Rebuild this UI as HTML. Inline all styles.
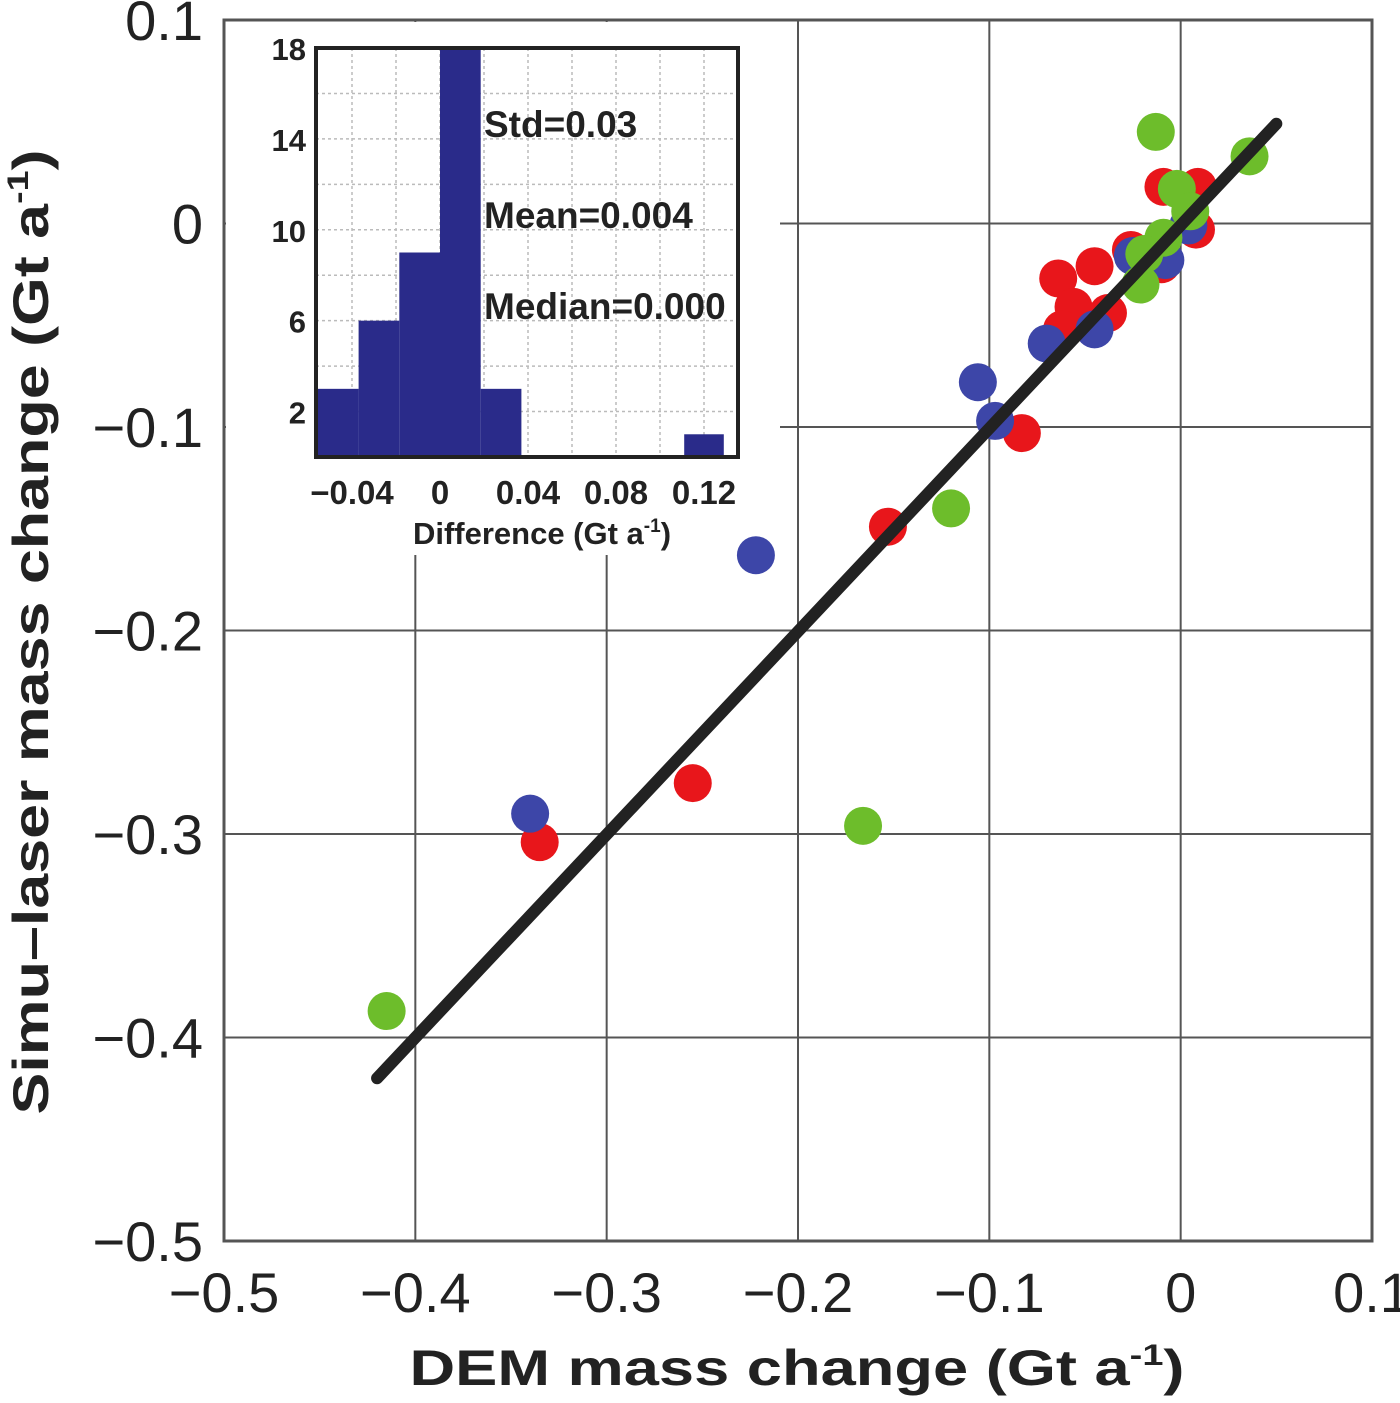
<!DOCTYPE html>
<html><head><meta charset="utf-8"><style>
html,body{margin:0;padding:0;background:#fff;}
svg{display:block;font-family:"Liberation Sans",sans-serif;}
</style></head><body>
<svg id="chart" width="1400" height="1403" viewBox="0 0 1400 1403">
<g id="main-grid"></g>
<rect x="224" y="20" width="1148" height="1221" fill="none" stroke="#555" stroke-width="3"/>
<rect x="226" y="22" width="554" height="533" fill="#fff"/>
<g id="points"></g>
<g id="fitline"></g>
<g id="ticks"></g>
<text x="797" y="1385" font-size="50" font-weight="bold" text-anchor="middle" fill="#222" textLength="775" lengthAdjust="spacingAndGlyphs">DEM mass change (Gt a<tspan font-size="30" dy="-20">-1</tspan><tspan dy="20">)</tspan></text>
<text transform="translate(48,632) rotate(-90)" font-size="50" font-weight="bold" text-anchor="middle" fill="#222" textLength="965" lengthAdjust="spacingAndGlyphs">Simu–laser mass change (Gt a<tspan font-size="30" dy="-20">-1</tspan><tspan dy="20">)</tspan></text>
<g id="inset"></g>
</svg>
<script>
// Main scatter data
const xTicks = [-0.5,-0.4,-0.3,-0.2,-0.1,0,0.1];
const xTickLabels = ["−0.5","−0.4","−0.3","−0.2","−0.1","0","0.1"];
const yTicks = [0.1,0,-0.1,-0.2,-0.3,-0.4,-0.5];
const yTickLabels = ["0.1","0","−0.1","−0.2","−0.3","−0.4","−0.5"];
const redX = [-0.009,0.009,0.008,-0.064,-0.045,-0.056,-0.038,-0.062,-0.083,-0.153,-0.255,-0.335,-0.026,-0.01];
const redY = [0.018,0.018,-0.003,-0.027,-0.021,-0.041,-0.044,-0.052,-0.103,-0.149,-0.275,-0.304,-0.013,-0.02];
const blueX = [-0.222,-0.106,-0.097,-0.07,-0.045,-0.025,-0.008,-0.34,0.004];
const blueY = [-0.163,-0.078,-0.097,-0.059,-0.052,-0.016,-0.018,-0.29,-0.001];
const greenX = [-0.013,0.036,-0.166,-0.415,-0.12,-0.021,-0.002,0.005,-0.009,-0.019];
const greenY = [0.045,0.033,-0.296,-0.387,-0.14,-0.03,0.017,0.006,-0.007,-0.015];
const lineX = [-0.42,0.05];
const lineY = [-0.42,0.049];
// Inset histogram data
const binLeft = [-0.0555,-0.037,-0.0185,0.0,0.0185,0.111];
const binRight = [-0.037,-0.0185,0.0,0.0185,0.037,0.129];
const binCounts = [3,6,9,18,3,1];
const hxTicks = [-0.04,0,0.04,0.08,0.12];
const hxTickLabels = ["−0.04","0","0.04","0.08","0.12"];
const hyTicks = [2,6,10,14,18];
const hyTickLabels = ["2","6","10","14","18"];
const hGridX = [-0.04,-0.02,0,0.02,0.04,0.06,0.08,0.1,0.12];
const hGridY = [2,4,6,8,10,12,14,16];

const NS="http://www.w3.org/2000/svg";
function mk(tag,attrs,parent){const e=document.createElementNS(NS,tag);for(const k in attrs)e.setAttribute(k,attrs[k]);parent.appendChild(e);return e;}
const sx=v=>224+(v+0.5)/0.6*1148;
const sy=v=>20+(0.1-v)/0.6*1221;
const grid=document.getElementById('main-grid');
xTicks.forEach((t,i)=>{if(i>0&&i<xTicks.length-1){const l=mk('line',{x1:sx(t),x2:sx(t),y1:20,y2:1241,stroke:'#555','stroke-width':2},grid);

}});
yTicks.forEach((t,i)=>{if(i>0&&i<yTicks.length-1){const l=mk('line',{x1:224,x2:1372,y1:sy(t),y2:sy(t),stroke:'#555','stroke-width':2},grid);

}});
const tk=document.getElementById('ticks');
xTicks.forEach((t,i)=>{const e=mk('text',{x:sx(t),y:1312,'font-size':56,'text-anchor':'middle',fill:'#222'},tk);e.textContent=xTickLabels[i];

});
yTicks.forEach((t,i)=>{const e=mk('text',{x:203,y:sy(t)+20,'font-size':56,'text-anchor':'end',fill:'#222'},tk);e.textContent=yTickLabels[i];

});
const pts=document.getElementById('points');
function series(xs,ys,col,name){xs.forEach((x,i)=>{const c=mk('circle',{cx:sx(x),cy:sy(ys[i]),r:19,fill:col},pts);

});}
series(redX,redY,'#e8161b','red-point');
series(blueX,blueY,'#3d46a8','blue-point');
series(greenX,greenY,'#6dbd2b','green-point');
const fl=mk('line',{x1:sx(lineX[0]),y1:sy(lineY[0]),x2:sx(lineX[1]),y2:sy(lineY[1]),stroke:'#222','stroke-width':12,'stroke-linecap':'round'},document.getElementById('fitline'));


// inset
const ins=document.getElementById('inset');
const L=316,R=738,T=48,B=457;
const hx=v=>440+v/0.04*88;
const hy=v=>B-(v/18)*(B-T);
hGridX.forEach(g=>{const l=mk('line',{x1:hx(g),x2:hx(g),y1:T,y2:B,stroke:'#bbb','stroke-width':1.5,'stroke-dasharray':'3,3'},ins);

});
hGridY.forEach(g=>{const l=mk('line',{x1:L,x2:R,y1:hy(g),y2:hy(g),stroke:'#bbb','stroke-width':1.5,'stroke-dasharray':'3,3'},ins);

});
binCounts.forEach((c,i)=>{const r=mk('rect',{x:hx(binLeft[i]),y:hy(c),width:hx(binRight[i])-hx(binLeft[i]),height:B-hy(c),fill:'#2a2b8a'},ins);

});
const fr=mk('rect',{x:L,y:T,width:R-L,height:B-T,fill:'none',stroke:'#222','stroke-width':4},ins);


hxTicks.forEach((t,i)=>{const e=mk('text',{x:hx(t),y:504,'font-size':33,'font-weight':'bold','text-anchor':'middle',fill:'#222'},ins);e.textContent=hxTickLabels[i];

});
hyTicks.forEach((t,i)=>{const e=mk('text',{x:306,y:hy(t)+12,'font-size':31,'font-weight':'bold','text-anchor':'end',fill:'#222'},ins);e.textContent=hyTickLabels[i];

});
const stats=[["Std=0.03",137],["Mean=0.004",228],["Median=0.000",319]];
stats.forEach(s=>{const e=mk('text',{x:484,y:s[1],'font-size':37,'font-weight':'bold',fill:'#222'},ins);e.textContent=s[0];

});
const xt=mk('text',{x:542,y:544,'font-size':31,'font-weight':'bold','text-anchor':'middle',fill:'#222'},ins);


xt.innerHTML='Difference (Gt a<tspan font-size="19" dy="-12">-1</tspan><tspan dy="12">)</tspan>';
</script>
</body></html>
